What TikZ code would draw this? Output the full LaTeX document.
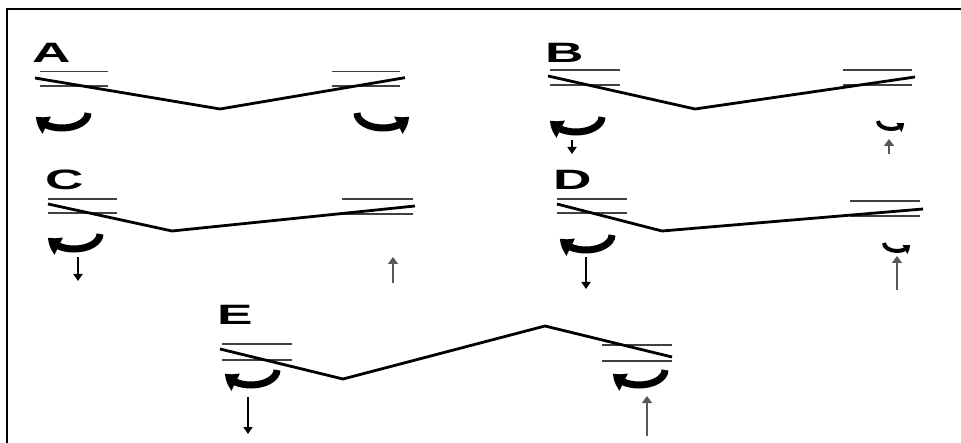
\documentclass[tikz,border=0pt]{standalone}
\usepackage{fontspec}
\setmainfont{Liberation Sans}
\usetikzlibrary{arrows.meta,bending}
\tikzset{
  beam/.style={line width=2.8pt, line join=miter},
  brg/.style={line width=1.6pt, black!75},
  frame/.style={line width=2.6pt},
  downarr/.style={line width=1.8pt, black, -{Triangle[length=7pt,width=9pt]}},
  uparr/.style={line width=2.2pt, black!65, -{Triangle[length=7pt,width=10pt]}},
  lab/.style={inner sep=0pt, anchor=base west, font=\bfseries\fontsize{28}{28}\selectfont},
  bigmom/.pic={
    \draw[line width=7pt, -{Triangle[length=13pt,width=19pt,bend]}]
      ({26*cos(0)},{-6+15*sin(0)}) arc[start angle=0, end angle=168, x radius=26, y radius=15];
  },
  smallmom/.pic={
    \draw[line width=4pt, -{Triangle[length=7pt,width=10pt,bend]}]
      ({13*cos(0)},{-4+8*sin(0)}) arc[start angle=0, end angle=168, x radius=13, y radius=8];
  }
}
\begin{document}
\begin{tikzpicture}[x=1pt,y=-1pt]
\useasboundingbox (0,0) rectangle (961,443);
% frame (top and left edges only)
\draw[frame] (7,443) -- (7,9) -- (961,9);

% labels
\node[lab] (labA) at (32,63) {\scalebox{1.9}[1]{A}};
\node[lab] (labB) at (545,63) {\scalebox{1.9}[1]{B}};
\node[lab] (labC) at (45,190) {\scalebox{1.9}[1]{C}};
\node[lab] (labD) at (553,190) {\scalebox{1.9}[1]{D}};
\node[lab] (labE) at (217,325) {\scalebox{1.9}[1]{E}};

% ---------- A ----------
\draw[brg] (40,71.7) -- (108,71.7);
\draw[brg] (40,86) -- (108,86);
\draw[brg] (332,71.7) -- (400,71.7);
\draw[brg] (332,86) -- (400,86);
\coordinate (a1) at (35,78);
\coordinate (a2) at (220,109);
\coordinate (a3) at (405,77.7);
\draw[beam] (a1) -- (a2) -- (a3);
\pic at (62,119) {bigmom};
\pic[xscale=-1] at (383,119) {bigmom};

% ---------- B ----------
\draw[brg] (550,70) -- (620,70);
\draw[brg] (550,85) -- (620,85);
\draw[brg] (843,70) -- (912,70);
\draw[brg] (843,85) -- (912,85);
\coordinate (b1) at (548,76);
\coordinate (b2) at (695,109);
\coordinate (b3) at (915,77);
\draw[beam] (b1) -- (b2) -- (b3);
\pic at (576,123) {bigmom};
\pic[xscale=-1] at (891,125) {smallmom};
\coordinate (bd1) at (572,140);
\coordinate (bd2) at (572,154);
\coordinate (bu1) at (889,154);
\coordinate (bu2) at (889,139);
\draw[downarr] (bd1) -- (bd2);
\draw[uparr] (bu1) -- (bu2);

% ---------- C ----------
\draw[brg] (48,199) -- (117,199);
\draw[brg] (48,213) -- (117,213);
\draw[brg] (342,199) -- (413,199);
\draw[brg] (342,214) -- (413,214);
\coordinate (c1) at (48,204);
\coordinate (c2) at (172,231);
\coordinate (c3) at (415,206);
\draw[beam] (c1) -- (c2) -- (c3);
\pic at (74,240) {bigmom};
\coordinate (cd1) at (78,257);
\coordinate (cd2) at (78,281);
\coordinate (cu1) at (393,283);
\coordinate (cu2) at (393,257);
\draw[downarr] (cd1) -- (cd2);
\draw[uparr] (cu1) -- (cu2);

% ---------- D ----------
\draw[brg] (557,199) -- (627,199);
\draw[brg] (557,213) -- (627,213);
\draw[brg] (850,201) -- (920,201);
\draw[brg] (850,216) -- (920,216);
\coordinate (d1) at (557,204);
\coordinate (d2) at (662,231);
\coordinate (d3) at (923,209);
\draw[beam] (d1) -- (d2) -- (d3);
\pic at (586,241) {bigmom};
\pic[xscale=-1] at (897,247) {smallmom};
\coordinate (dd1) at (586,257);
\coordinate (dd2) at (586,289);
\coordinate (du1) at (897,290);
\coordinate (du2) at (897,256);
\draw[downarr] (dd1) -- (dd2);
\draw[uparr] (du1) -- (du2);

% ---------- E ----------
\draw[brg] (222,344) -- (292,344);
\draw[brg] (222,360) -- (292,360);
\draw[brg] (602,345) -- (672,345);
\draw[brg] (602,361) -- (672,361);
\coordinate (e1) at (220,349);
\coordinate (e2) at (343,379);
\coordinate (e3) at (545,326);
\coordinate (e4) at (672,357);
\draw[beam] (e1) -- (e2) -- (e3) -- (e4);
\pic at (251,376) {bigmom};
\pic at (639,376) {bigmom};
\coordinate (ed1) at (248,397);
\coordinate (ed2) at (248,434);
\coordinate (eu1) at (647,436);
\coordinate (eu2) at (647,396);
\draw[downarr] (ed1) -- (ed2);
\draw[uparr] (eu1) -- (eu2);
\end{tikzpicture}
\end{document}
